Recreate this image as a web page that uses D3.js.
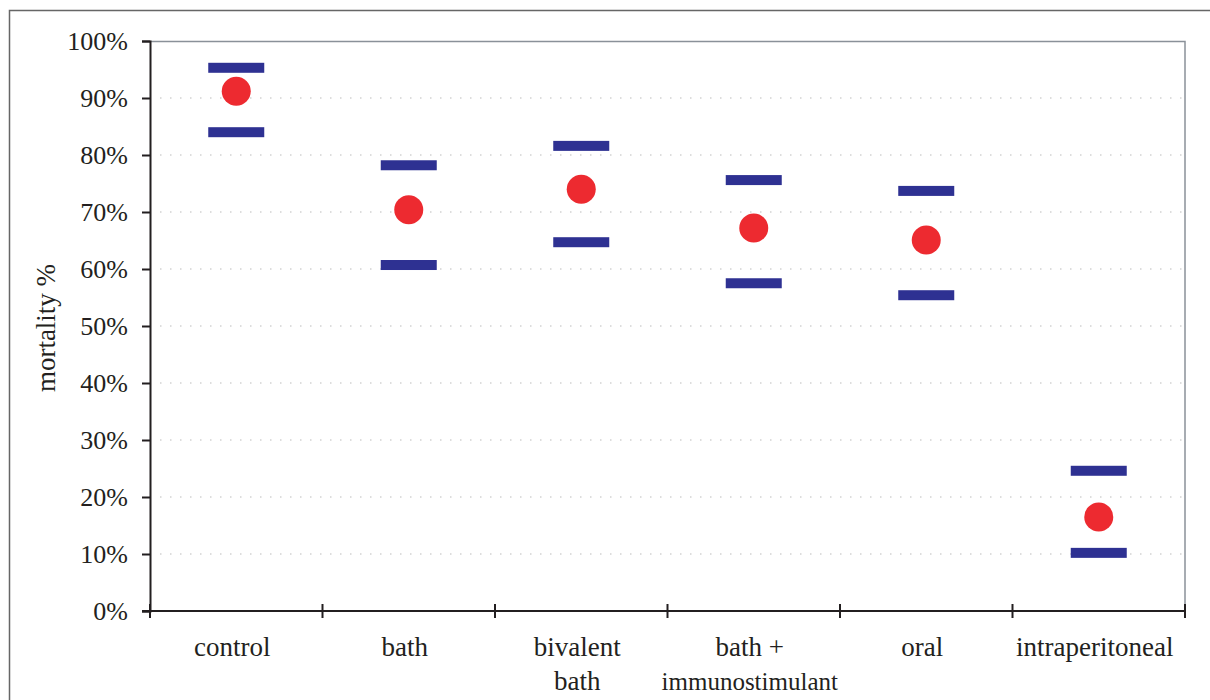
<!DOCTYPE html>
<html>
<head>
<meta charset="utf-8">
<script src="https://cdn.jsdelivr.net/npm/d3@7"></script>
<style>
  body { margin: 0; background: #fff; }
  svg text { font-family: "Liberation Serif", "DejaVu Serif", serif; fill: #231f20; }
</style>
</head>
<body>
<div id="chart-area"></div>
<script>
// data
var groups = ["control", "bath", "bivalent bath", "bath + immunostimulant", "oral", "intraperitoneal"];
var groupLines = [["control"], ["bath"], ["bivalent", "bath"], ["bath +", "immunostimulant"], ["oral"], ["intraperitoneal"]];
var upper = [95.3, 78.2, 81.6, 75.6, 73.7, 24.6];
var mean = [91.2, 70.4, 74.0, 67.2, 65.1, 16.5];
var lower = [84.0, 60.7, 64.7, 57.5, 55.4, 10.2];
var yTicks = [0, 10, 20, 30, 40, 50, 60, 70, 80, 90, 100];

var width = 1210, height = 700;
var margin = {top: 41, right: 25, bottom: 89, left: 150};

var svg = d3.select("#chart-area").append("svg")
	.attr("width", width)
	.attr("height", height);

// outer frame
svg.append("rect")
	.attr("x", 9.5).attr("y", 10.5)
	.attr("width", 1220).attr("height", 720)
	.attr("fill", "none")
	.attr("stroke", "#666")
	.attr("stroke-width", 1.5);

var x = d3.scaleBand()
	.domain(groups)
	.range([margin.left, width - margin.right]);

var y = d3.scaleLinear()
	.domain([0, 100])
	.range([height - margin.bottom, margin.top]);

// dotted grid
svg.append("g").selectAll("line")
	.data(yTicks.filter(function(d){ return d > 0 && d < 100; }))
	.enter().append("line")
	.attr("x1", margin.left + 10).attr("x2", width - margin.right)
	.attr("y1", function(d){ return y(d); })
	.attr("y2", function(d){ return y(d); })
	.attr("stroke", "#bbb")
	.attr("stroke-width", 1.2)
	.attr("stroke-dasharray", "1.5,8.5");

// top and right border of plot
svg.append("path")
	.attr("d", "M" + margin.left + "," + (margin.top + 0.5) + "H" + (width - margin.right) + "V" + (height - margin.bottom))
	.attr("fill", "none")
	.attr("stroke", "#8a9199")
	.attr("stroke-width", 1.5);

// y axis
var yAxis = d3.axisLeft(y)
	.tickValues(yTicks)
	.tickSize(8)
	.tickPadding(14)
	.tickFormat(function(d){ return d + "%"; });

var gy = svg.append("g")
	.attr("transform", "translate(" + margin.left + ",0)")
	.call(yAxis);
gy.select(".domain").attr("stroke", "#231f20").attr("stroke-width", 2);
gy.selectAll(".tick line").attr("stroke", "#231f20").attr("stroke-width", 2);
gy.selectAll(".tick text")
	.style("font-family", "'Liberation Serif', serif")
	.style("font-size", "26px")
	.attr("fill", "#231f20");

// x axis: ticks at band edges
var xAxisG = svg.append("g")
	.attr("transform", "translate(0," + y(0) + ")");
xAxisG.append("line")
	.attr("x1", margin.left - 8).attr("x2", width - margin.right)
	.attr("stroke", "#231f20").attr("stroke-width", 2);
var edges = groups.map(function(g){ return x(g); }).concat([x(groups[groups.length - 1]) + x.bandwidth()]);
xAxisG.selectAll(".xt")
	.data(edges)
	.enter().append("line")
	.attr("class", "xt")
	.attr("x1", function(d){ return d; }).attr("x2", function(d){ return d; })
	.attr("y1", -7).attr("y2", 7)
	.attr("stroke", "#231f20").attr("stroke-width", 2);

// category labels
var labels = svg.append("g").selectAll("text")
	.data(groups)
	.enter().append("text")
	.attr("text-anchor", "middle")
	.attr("x", function(d){ return x(d) + x.bandwidth() / 2 - 4; })
	.attr("y", 656);
labels.each(function(d, i){
	var t = d3.select(this);
	groupLines[i].forEach(function(line, j){
		t.append("tspan")
			.attr("x", x(d) + x.bandwidth() / 2 - 4)
			.attr("dy", j === 0 ? 0 : 34)
			.style("font-size", line === "immunostimulant" ? "25px" : "27px")
			.text(line);
	});
});

// y axis title
svg.append("text")
	.attr("transform", "translate(55," + (y(50) + 2) + ") rotate(-90)")
	.attr("text-anchor", "middle")
	.style("font-size", "27px")
	.text("mortality %");

// upper and lower bars
var barW = 56, barH = 10;
svg.append("g").selectAll("rect")
	.data(groups.map(function(g, i){ return [g, upper[i]]; }).concat(groups.map(function(g, i){ return [g, lower[i]]; })))
	.enter().append("rect")
	.attr("x", function(d){ return x(d[0]) + x.bandwidth() / 2 - barW / 2; })
	.attr("y", function(d){ return y(d[1]) - barH / 2; })
	.attr("width", barW)
	.attr("height", barH)
	.attr("fill", "#2e3192");

// mean points
svg.append("g").selectAll("circle")
	.data(mean)
	.enter().append("circle")
	.attr("cx", function(d, i){ return x(groups[i]) + x.bandwidth() / 2; })
	.attr("cy", function(d){ return y(d); })
	.attr("r", 14.5)
	.attr("fill", "#ed2a30");
</script>
</body>
</html>
